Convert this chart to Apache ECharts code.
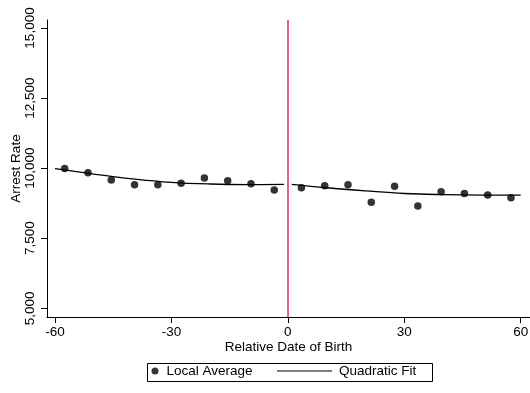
<!DOCTYPE html>
<html>
<head>
<meta charset="utf-8">
<script src="https://cdn.jsdelivr.net/npm/echarts@6/dist/echarts.min.js"></script>
<style>
  html, body { margin: 0; padding: 0; background: #fff; }
  #chart { width: 530px; height: 393px; }
</style>
</head>
<body>
<div id="chart"></div>
<script>
// Bin centres (days relative to the cutoff) and local averages of the arrest rate
const leftBins = [-57.5, -51.5, -45.5, -39.5, -33.5, -27.5, -21.5, -15.5, -9.5, -3.5];
const leftAvg = [9990, 9835, 9575, 9410, 9410, 9465, 9645, 9550, 9445, 9220];
const rightBins = [3.5, 9.5, 15.5, 21.5, 27.5, 33.5, 39.5, 45.5, 51.5, 57.5];
const rightAvg = [9300, 9375, 9410, 8780, 9350, 8650, 9160, 9100, 9040, 8945];

// Quadratic fit on each side of the cutoff, sampled along the curve
const leftFitX = [-60, -50, -40, -30, -20, -10, -1];
const leftFitY = [9985, 9790, 9620, 9495, 9435, 9415, 9420];
const rightFitX = [1, 10, 20, 30, 40, 50, 60];
const rightFitY = [9420, 9300, 9190, 9095, 9055, 9040, 9040];

// Tick labels
const xTicks = [-60, -30, 0, 30, 60];
const yTicks = [5000, 7500, 10000, 12500, 15000];

const zip = (xs, ys) => xs.map((x, i) => [x, ys[i]]);
const FONT = 'Liberation Sans, Arial, Helvetica, sans-serif';
const fmtThousands = v => String(v).replace(/\B(?=(\d{3})+(?!\d))/g, ',');

const chart = echarts.init(document.getElementById('chart'), null, { renderer: 'canvas' });

chart.setOption({
  animation: false,
  backgroundColor: '#fff',
  textStyle: { fontFamily: FONT, color: '#000' },
  grid: { left: 47, right: 0, top: 20, bottom: 76, containLabel: false, outerBoundsMode: 'none' },
  xAxis: {
    type: 'value',
    min: -62.06,
    max: 62.4,
    name: 'Relative Date of Birth',
    nameLocation: 'middle',
    nameGap: 23,
    nameMoveOverlap: false,
    nameTextStyle: { fontFamily: FONT, fontSize: 13.5, color: '#000' },
    splitLine: { show: false },
    axisLine: { show: true, onZero: false, lineStyle: { color: '#000', width: 1 } },
    axisTick: { show: true, length: 6, customValues: xTicks, lineStyle: { color: '#000' } },
    axisLabel: {
      customValues: xTicks,
      margin: 8,
      fontFamily: FONT, fontSize: 13.5, color: '#000',
      showMinLabel: true, showMaxLabel: true
    }
  },
  yAxis: {
    type: 'value',
    min: 4690,
    max: 15285,
    name: 'Arrest Rate',
    nameLocation: 'middle',
    nameGap: 24,
    nameRotate: 90,
    nameMoveOverlap: false,
    nameTextStyle: { fontFamily: FONT, fontSize: 13.5, color: '#000' },
    splitLine: { show: false },
    axisLine: { show: true, onZero: false, lineStyle: { color: '#000', width: 1 } },
    axisTick: { show: true, length: 6, customValues: yTicks, lineStyle: { color: '#000' } },
    axisLabel: {
      customValues: yTicks,
      rotate: 90,
      margin: 10,
      fontFamily: FONT, fontSize: 13.5, color: '#000',
      formatter: v => fmtThousands(v)
    }
  },
  legend: [
    {
      data: [{ name: 'Local Average', icon: 'circle' }],
      left: 151.5, top: 364, padding: 0,
      itemWidth: 7, itemHeight: 7, itemGap: 0,
      textStyle: { fontFamily: FONT, fontSize: 13.5, color: '#000', padding: [0, 0, 0, 3] },
      selectedMode: false
    },
    {
      data: [{ name: 'Quadratic Fit', icon: 'rect' }],
      left: 277, top: 364, padding: 0,
      itemWidth: 55, itemHeight: 1.2, itemGap: 0,
      itemStyle: { color: '#000' },
      textStyle: { fontFamily: FONT, fontSize: 13.5, color: '#000', padding: [0, 0, 0, 2] },
      selectedMode: false
    }
  ],
  graphic: [
    {
      type: 'rect',
      left: 145, top: 361,
      shape: { width: 285, height: 18 },
      style: { fill: 'none', stroke: '#000', lineWidth: 1 },
      silent: true, z: 0
    }
  ],
  series: [
    {
      name: 'Quadratic Fit',
      type: 'line',
      data: zip(leftFitX, leftFitY),
      smooth: 0.4,
      symbol: 'none',
      lineStyle: { color: '#000', width: 1.3 },
      itemStyle: { color: '#000' },
      markLine: {
        silent: true,
        symbol: 'none',
        label: { show: false },
        lineStyle: { color: '#d6305c', width: 1.5, type: 'solid' },
        data: [{ xAxis: 0 }]
      }
    },
    {
      name: 'Quadratic Fit',
      type: 'line',
      data: zip(rightFitX, rightFitY),
      smooth: 0.4,
      symbol: 'none',
      lineStyle: { color: '#000', width: 1.3 },
      itemStyle: { color: '#000' }
    },
    {
      name: 'Local Average',
      type: 'scatter',
      data: zip(leftBins, leftAvg).concat(zip(rightBins, rightAvg)),
      symbol: 'circle',
      symbolSize: 7.5,
      itemStyle: { color: '#000' },
      z: 3
    }
  ]
});
</script>
</body>
</html>
